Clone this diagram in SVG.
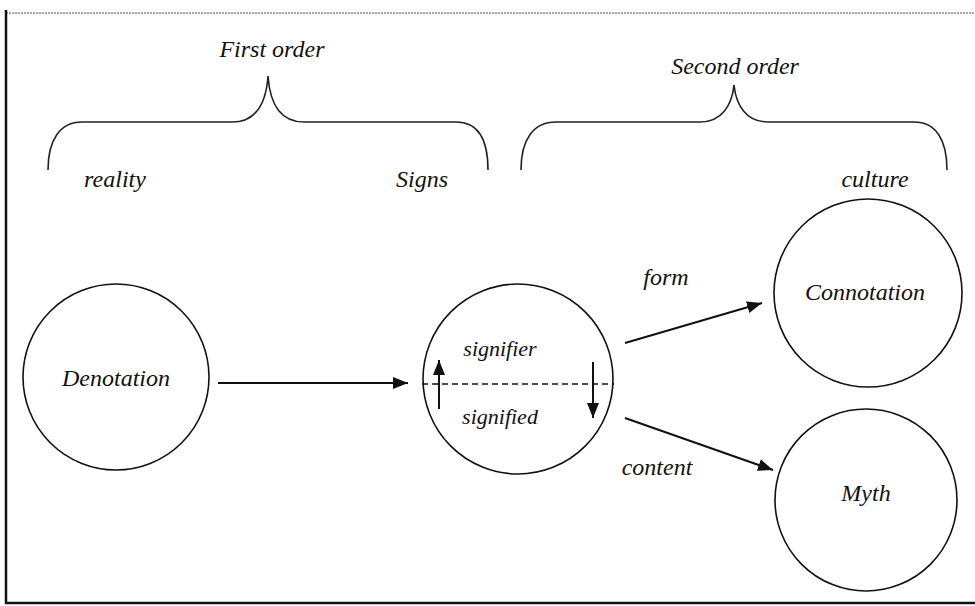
<svg xmlns="http://www.w3.org/2000/svg" width="975" height="606" viewBox="0 0 975 606">
<defs>
<style>
.t{font-family:'Liberation Serif','Times New Roman','DejaVu Serif',serif;font-style:italic;fill:#111;text-anchor:middle}
.lbl{font-size:24px}
.sm{font-size:22px}
.node{fill:#fff;stroke:#111;stroke-width:1.6}
.edge{stroke:#111;stroke-width:2;fill:none}
.brace{stroke:#222;stroke-width:1.6;fill:none}
</style>
<marker id="ahs" viewBox="0 0 10 10" refX="10" refY="5" markerWidth="15" markerHeight="15" markerUnits="userSpaceOnUse" orient="auto"><path d="M0,1 L10,5 L0,9 z" fill="#111"/></marker>
</defs>
<rect x="0" y="0" width="975" height="606" fill="#fff"/>
<g id="frame">
<line x1="6" y1="13" x2="975" y2="13" stroke="#9aa" stroke-width="2" stroke-dasharray="2 1"/>
<line x1="6" y1="10" x2="6" y2="604" stroke="#111" stroke-width="2.5"/>
<line x1="5" y1="603" x2="975" y2="603" stroke="#111" stroke-width="2.5"/>
</g>
<g id="brace-first" font-family="Liberation Serif, serif" font-style="italic">
<path class="brace" d="M48,170 C48,140 60,122 82,122 L232,122 C255,122 266,105 268,76 C270,105 281,122 304,122 L456,122 C478,122 488,140 488,170"/>
<text class="t lbl" x="272" y="57">First order</text>
</g>
<g id="brace-second" font-family="Liberation Serif, serif" font-style="italic">
<path class="brace" d="M521,170 C521,140 533,122 556,122 L700,122 C722,122 732,105 734,85 C736,105 746,122 768,122 L914,122 C936,122 947,140 947,170"/>
<text class="t lbl" x="735" y="74">Second order</text>
</g>
<g id="labels" font-family="Liberation Serif, serif" font-style="italic">
<text class="t lbl" x="115" y="187">reality</text>
<text class="t lbl" x="422" y="187">Signs</text>
<text class="t lbl" x="875" y="187">culture</text>
<text class="t lbl" x="666" y="285">form</text>
<text class="t lbl" x="657" y="475">content</text>
</g>
<g id="denotation" font-family="Liberation Serif, serif" font-style="italic">
<circle class="node" cx="116" cy="377" r="93"/>
<text class="t lbl" x="116" y="386">Denotation</text>
</g>
<g id="signs" font-family="Liberation Serif, serif" font-style="italic">
<circle class="node" cx="518" cy="379" r="95"/>
<line x1="422" y1="384" x2="614" y2="384" stroke="#111" stroke-width="1.3" stroke-dasharray="6 4"/>
<text class="t sm" x="500" y="356">signifier</text>
<text class="t sm" x="500" y="424">signified</text>
</g>
<g id="connotation" font-family="Liberation Serif, serif" font-style="italic">
<circle class="node" cx="868" cy="293" r="94"/>
<text class="t lbl" x="865" y="300">Connotation</text>
</g>
<g id="myth" font-family="Liberation Serif, serif" font-style="italic">
<circle class="node" cx="866" cy="500" r="91"/>
<text class="t lbl" x="866" y="501">Myth</text>
</g>
<g id="connectors">
<line class="edge" x1="218" y1="383" x2="408" y2="383" marker-end="url(#ahs)"/>
<line class="edge" x1="625" y1="343" x2="762" y2="303" marker-end="url(#ahs)"/>
<line class="edge" x1="625" y1="418" x2="773" y2="470" marker-end="url(#ahs)"/>
<line class="edge" x1="439" y1="409" x2="439" y2="360" marker-end="url(#ahs)"/>
<line class="edge" x1="593" y1="362" x2="593" y2="418" marker-end="url(#ahs)"/>
</g>
</svg>
